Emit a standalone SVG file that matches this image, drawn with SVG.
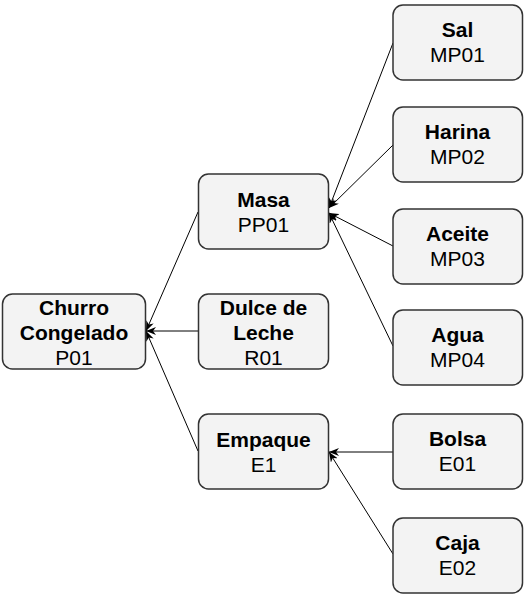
<svg xmlns="http://www.w3.org/2000/svg" width="525" height="599" viewBox="0 0 525 599">
<defs>
<marker id="arr" viewBox="0 0 10 8" refX="10" refY="4" markerWidth="10" markerHeight="8" orient="auto" markerUnits="userSpaceOnUse">
<path d="M0,0 L10,4 L0,8 L3,4 Z" fill="#000"/>
</marker>
</defs>
<style>
.box{fill:#f3f3f3;stroke:#333;stroke-width:1.5}
.t{font-family:"Liberation Sans",Arial,sans-serif;font-size:21px;fill:#000;text-anchor:middle}
.b{font-weight:bold}
.e{stroke:#000;stroke-width:1;fill:none;marker-end:url(#arr)}
</style>
<rect width="525" height="599" fill="#fff"/>
<g id="connectors">
<line class="e" x1="393" y1="43" x2="329" y2="208"/>
<line class="e" x1="393" y1="145" x2="329" y2="208"/>
<line class="e" x1="393" y1="246" x2="329" y2="213"/>
<line class="e" x1="393" y1="346" x2="329" y2="213"/>
<line class="e" x1="198" y1="212" x2="146" y2="331"/>
<line class="e" x1="198" y1="331" x2="146" y2="331"/>
<line class="e" x1="198" y1="451" x2="146" y2="331"/>
<line class="e" x1="393" y1="452" x2="329" y2="452"/>
<line class="e" x1="393" y1="554" x2="329" y2="452"/>
</g>
<g id="churro">
<rect class="box" x="2.5" y="294" width="143" height="75" rx="10"/>
<text class="t b" x="74" y="315">Churro</text>
<text class="t b" x="74" y="340">Congelado</text>
<text class="t" x="74" y="365">P01</text>
</g>
<g id="masa">
<rect class="box" x="198.5" y="174" width="130" height="75" rx="10"/>
<text class="t b" x="263.5" y="207">Masa</text>
<text class="t" x="263.5" y="232">PP01</text>
</g>
<g id="dulce">
<rect class="box" x="198.5" y="294" width="130" height="75" rx="10"/>
<text class="t b" x="263.5" y="315">Dulce de</text>
<text class="t b" x="263.5" y="340">Leche</text>
<text class="t" x="263.5" y="365">R01</text>
</g>
<g id="empaque">
<rect class="box" x="198.5" y="414" width="130" height="75" rx="10"/>
<text class="t b" x="263.5" y="447">Empaque</text>
<text class="t" x="263.5" y="472">E1</text>
</g>
<g id="sal">
<rect class="box" x="393" y="5" width="129.5" height="75" rx="10"/>
<text class="t b" x="457.5" y="37">Sal</text>
<text class="t" x="457.5" y="62">MP01</text>
</g>
<g id="harina">
<rect class="box" x="393" y="107" width="129.5" height="75" rx="10"/>
<text class="t b" x="457.5" y="139">Harina</text>
<text class="t" x="457.5" y="164">MP02</text>
</g>
<g id="aceite">
<rect class="box" x="393" y="209" width="129.5" height="75" rx="10"/>
<text class="t b" x="457.5" y="241">Aceite</text>
<text class="t" x="457.5" y="266">MP03</text>
</g>
<g id="agua">
<rect class="box" x="393" y="310" width="129.5" height="75" rx="10"/>
<text class="t b" x="457.5" y="342">Agua</text>
<text class="t" x="457.5" y="367">MP04</text>
</g>
<g id="bolsa">
<rect class="box" x="393" y="414" width="129.5" height="75" rx="10"/>
<text class="t b" x="457.5" y="446">Bolsa</text>
<text class="t" x="457.5" y="471">E01</text>
</g>
<g id="caja">
<rect class="box" x="393" y="518" width="129.5" height="75" rx="10"/>
<text class="t b" x="457.5" y="550">Caja</text>
<text class="t" x="457.5" y="575">E02</text>
</g>
</svg>
